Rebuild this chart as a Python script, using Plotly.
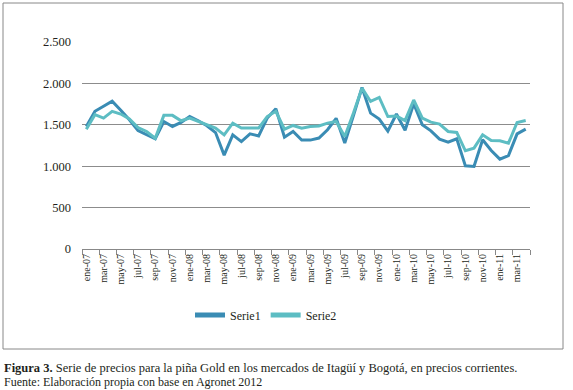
import plotly.graph_objects as go

meses = ["ene", "feb", "mar", "abr", "may", "jun", "jul", "ago", "sep", "oct", "nov", "dic"]
categories = [f"{m}-{y:02d}" for y in (7, 8, 9, 10) for m in meses] + ["ene-11", "feb-11", "mar-11", "abr-11"]

serie1 = [1480, 1663, 1724, 1785, 1675, 1560, 1430, 1378, 1330, 1540, 1480, 1528,
          1600, 1549, 1488, 1406, 1134, 1378, 1297, 1390, 1366, 1581, 1695, 1350,
          1419, 1317, 1315, 1340, 1440, 1578, 1280, 1610, 1950, 1641, 1569, 1425,
          1630, 1435, 1755, 1500, 1427, 1327, 1290, 1331, 1004, 996, 1319, 1190,
          1085, 1129, 1391, 1448]
serie2 = [1447, 1622, 1581, 1663, 1630, 1570, 1467, 1419, 1337, 1614, 1614, 1549,
          1581, 1541, 1500, 1460, 1378, 1520, 1460, 1460, 1460, 1600, 1663, 1447,
          1492, 1460, 1480, 1485, 1520, 1540, 1359, 1640, 1943, 1782, 1830, 1600,
          1605, 1550, 1800, 1581, 1532, 1508, 1419, 1407, 1186, 1218, 1379, 1311,
          1307, 1278, 1528, 1552]

y_ticks = [0, 500, 1000, 1500, 2000, 2500]

caption_bold = "Figura 3."
caption_text = " Serie de precios para la piña Gold en los mercados de Itagüí y Bogotá, en precios corrientes."
source_text = "Fuente: Elaboración propia con base en Agronet 2012"

FONT = "Liberation Serif"
W, H = 573, 390
L, R, T, B = 82, 43, 42, 141
pw, ph = W - L - R, H - T - B

def px_x(x):
    return (x - L) / pw

def px_y(y):
    return (H - B - y) / ph

fig = go.Figure()
fig.add_trace(go.Scatter(x=categories, y=serie1, name="Serie1", mode="lines",
                         line=dict(color="#3a8cb4", width=3)))
fig.add_trace(go.Scatter(x=categories, y=serie2, name="Serie2", mode="lines",
                         line=dict(color="#5dbdc3", width=3)))

fig.update_layout(
    width=W, height=H,
    margin=dict(l=L, r=R, t=T, b=B, pad=0),
    paper_bgcolor="white", plot_bgcolor="white",
    separators=",.",
    font=dict(family=FONT, color="#231f20", size=12),
    showlegend=True,
    legend=dict(orientation="h", x=px_x(266), xanchor="center", y=px_y(315), yanchor="middle",
                font=dict(size=12, family=FONT), itemwidth=30, bgcolor="rgba(0,0,0,0)",
                tracegroupgap=0, itemsizing="constant"),
    xaxis=dict(type="category", range=[-0.5, len(categories) - 0.5], dtick=2,
               tickson="boundaries", ticks="outside", ticklen=5, tickcolor="#888888",
               tickangle=-90, tickfont=dict(size=10, family=FONT),
               showline=True, linecolor="#888888", linewidth=1, showgrid=False,
               zeroline=False),
    yaxis=dict(range=[0, 2500], tickvals=y_ticks, tickformat=",d",
               showgrid=True, gridcolor="#8c8c8c", gridwidth=1,
               showline=False, zeroline=False, ticks="", ticklabelstandoff=10,
               tickfont=dict(size=12.5, family=FONT)),
)

fig.add_shape(type="rect", xref="paper", yref="paper",
              x0=px_x(3), x1=px_x(563), y0=px_y(349), y1=px_y(3),
              line=dict(color="#888888", width=1), fillcolor="rgba(0,0,0,0)", layer="below")

fig.add_annotation(xref="paper", yref="paper", x=px_x(2), y=px_y(368), xanchor="left", yanchor="middle",
                   text=f"<b>{caption_bold}</b>{caption_text}", showarrow=False,
                   font=dict(size=12.5, family=FONT, color="#231f20"))
fig.add_annotation(xref="paper", yref="paper", x=px_x(2), y=px_y(381.5), xanchor="left", yanchor="middle",
                   text=source_text, showarrow=False,
                   font=dict(size=12, family=FONT, color="#231f20"))

fig.write_html("out.html", config={"displayModeBar": False},
               post_script="document.body.style.margin='0';document.body.style.padding='0';")
